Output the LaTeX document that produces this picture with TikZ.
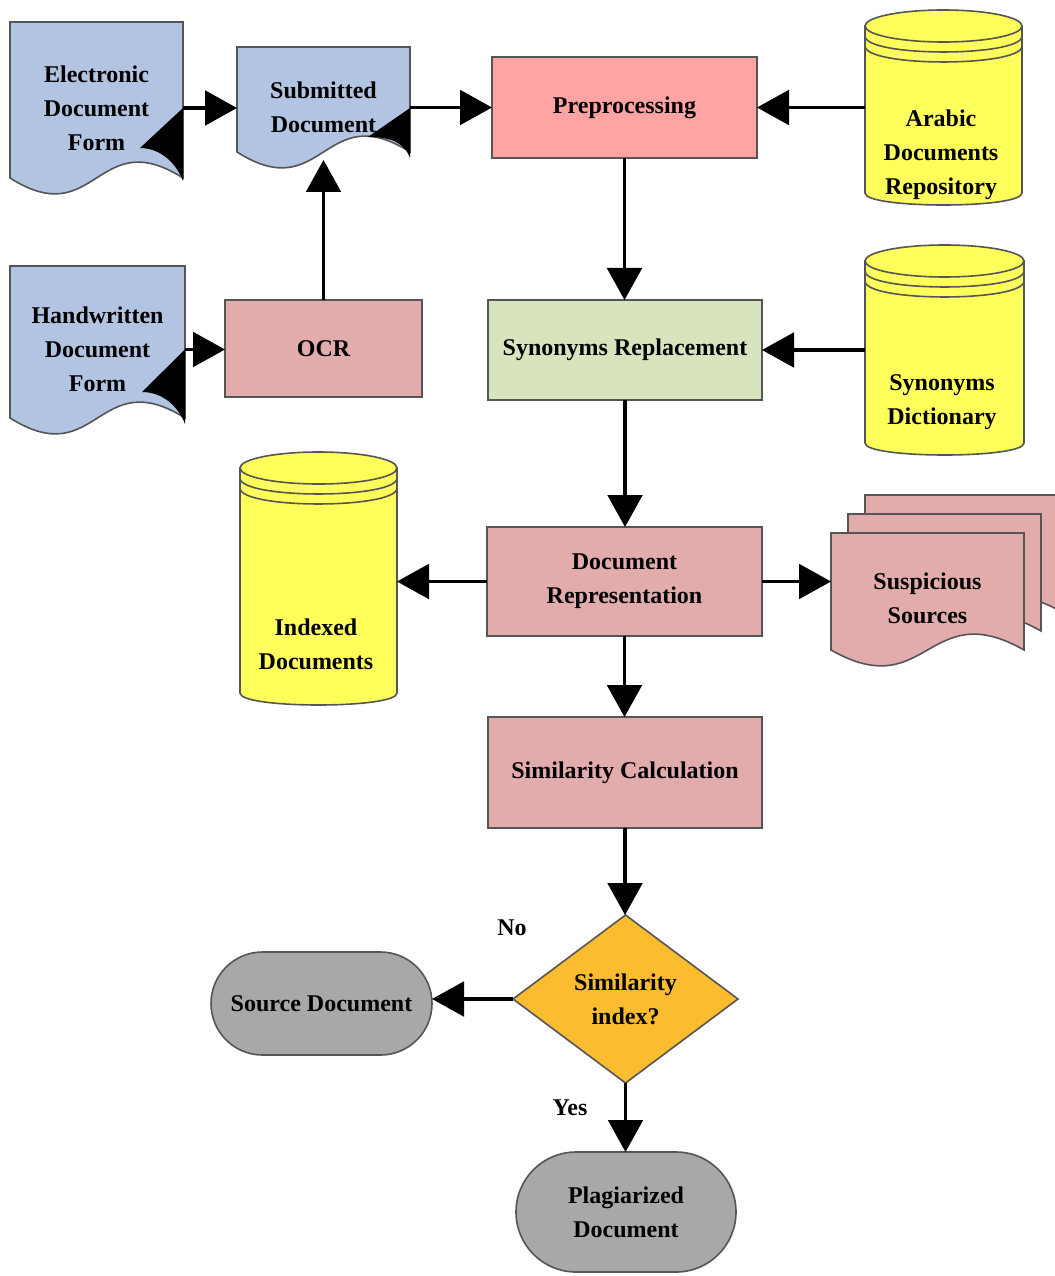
\documentclass[tikz,border=0pt]{standalone}
\usepackage{fontspec}
\setmainfont{Liberation Serif}
\usetikzlibrary{arrows.meta,shapes.geometric,shapes.misc,calc}

\definecolor{docblue}{RGB}{178,196,226}
\definecolor{prepink}{RGB}{255,163,163}
\definecolor{rose}{RGB}{226,172,172}
\definecolor{palegreen}{RGB}{216,228,190}
\definecolor{dbyellow}{RGB}{255,255,92}
\definecolor{decorange}{RGB}{252,188,48}
\definecolor{termgray}{RGB}{168,168,168}
\definecolor{bord}{RGB}{85,85,85}

% document sheet with a wavy bottom edge: x1, y1, x2, yb, fill
\newcommand\docsheet[5]{%
  \filldraw[shp, fill=#5] (#1,#2) -- (#3,#2) -- (#3,#4)
    .. controls ({(#1+#3)/2},{#4-55}) and ({(#1+#3)/2},{#4+55}) .. (#1,#4) -- cycle;}
% black tail where a connector leaves a document: x2, top y, vertex x, vertex y, bottom y
\newcommand\doctail[5]{%
  \fill[black] (#1,#2) -- (#3,#4)
    .. controls ({#3+22},{#4}) and ({#1-6},{#5-16}) .. (#1,#5) -- cycle;}
% database cylinder with ringed lid: x1, y1, x2, y2
\newcommand\dbcyl[4]{%
  \filldraw[shp, fill=dbyellow] (#1,{#2+16}) -- (#1,{#4-12})
    .. controls (#1,{#4+4}) and (#3,{#4+4}) .. (#3,{#4-12}) -- (#3,{#2+16}) -- cycle;
  \filldraw[shp, fill=dbyellow] ({(#1+#3)/2},{#2+16})
    ellipse [x radius={(#3-#1)/2*0.75pt}, y radius=12pt];
  \draw[shp] (#1,{#2+26}) .. controls (#1,{#2+47.3}) and (#3,{#2+47.3}) .. (#3,{#2+26});
  \draw[shp] (#1,{#2+36}) .. controls (#1,{#2+57.3}) and (#3,{#2+57.3}) .. (#3,{#2+36});}

\begin{document}
\begin{tikzpicture}[x=0.75pt,y=-0.75pt,
  shp/.style={draw=bord, line width=1.2pt},
  txt/.style={font=\fontsize{18}{25.5}\selectfont\bfseries, align=center, text=black},
  area/.style={txt, inner sep=0pt, outer sep=0pt},
  procbox/.style={area, shp, rectangle},
  arr/.style={line width=2.4pt, -{Triangle[length=24pt,width=26pt]}}]

\fill[white] (0,0) rectangle (1055,1276);
\useasboundingbox (0,0) rectangle (1055,1276);

% ---- document sheets
\docsheet{10}{22}{183}{178}{docblue}
\docsheet{237}{47}{410}{152}{docblue}
\docsheet{10}{266}{185}{418}{docblue}

% ---- stacked suspicious sources (the last sheet runs past the right margin)
\docsheet{865}{495}{1062}{612}{rose}
\docsheet{848}{514}{1041}{631}{rose}
\docsheet{831}{533}{1024}{650}{rose}

% ---- databases
\dbcyl{865}{10}{1022}{205}
\dbcyl{865}{245}{1024}{455}
\dbcyl{240}{452}{397}{705}

% ---- nodes
\node[area, minimum width=129.75pt, minimum height=129pt] (ele) at (96.5,108)
  {Electronic\\Document\\Form};
\node[area, minimum width=129.75pt, minimum height=90.75pt] (sub) at (323.5,107.5)
  {Submitted\\Document};
\node[area, minimum width=131.25pt, minimum height=125.25pt] (hand) at (97.5,349.5)
  {Handwritten\\Document\\Form};
\coordinate (subbot) at (323.5,160);

\node[procbox, fill=prepink, minimum width=198.75pt, minimum height=75.75pt] (pre)
  at (624.5,107.5) {Preprocessing};
\node[procbox, fill=rose, minimum width=147.75pt, minimum height=72.75pt] (ocr)
  at (323.5,348.5) {OCR};
\node[procbox, fill=palegreen, minimum width=205.5pt, minimum height=75pt] (syn)
  at (625,350) {Synonyms Replacement};
\node[procbox, fill=rose, minimum width=206.25pt, minimum height=81.75pt] (rep)
  at (624.5,581.5) {Document\\Representation};
\node[procbox, fill=rose, minimum width=205.5pt, minimum height=83.25pt] (sim)
  at (625,772.5) {Similarity Calculation};

\node[area, minimum width=117.75pt, minimum height=146.25pt] (arabic) at (943.5,107.5) {};
\node[txt] (arabictxt) at (941,155) {Arabic\\Documents\\Repository};
\node[area, minimum width=119.25pt, minimum height=157.5pt] (sdict) at (944.5,350) {};
\node[txt] (sdicttxt) at (942,402) {Synonyms\\Dictionary};
\node[area, minimum width=117.75pt, minimum height=189.75pt] (idx) at (318.5,578.5) {};
\node[txt] (idxtxt) at (316,644.5) {Indexed\\Documents};

\node[area, minimum width=144.75pt, minimum height=90pt] (susp) at (927.5,598.5)
  {Suspicious\\Sources};

\node[area, shp, diamond, fill=decorange, minimum width=168.75pt, minimum height=126pt]
  (dia) at (625.5,999) {Similarity\\index?};
\node[area, shp, rounded rectangle, fill=termgray, minimum width=165.75pt,
  minimum height=77.25pt] (src) at (321.5,1003.5) {Source Document};
\node[area, shp, rounded rectangle, fill=termgray, minimum width=165pt,
  minimum height=90pt] (plag) at (626,1212) {Plagiarized\\Document};

\node[txt] (no) at (512,928) {No};
\node[txt] (yes) at (570,1108) {Yes};

% ---- connectors
\draw[arr] (ele.east) -- (ele.east -| sub.west);
\draw[arr] (sub.east) -- (sub.east -| pre.west);
\draw[arr] (hand.east) -- (hand.east -| ocr.west);
\draw[arr] (ocr.north) -- (subbot);
\draw[arr] (arabic.west) -- (arabic.west -| pre.east);
\draw[arr] (pre.south) -- (pre.south |- syn.north);
\draw[arr] (sdict.west) -- (sdict.west -| syn.east);
\draw[arr] (syn.south) -- (syn.south |- rep.north);
\draw[arr] (rep.west) -- (rep.west -| idx.east);
\draw[arr] (rep.east) -- (rep.east -| susp.west);
\draw[arr] (rep.south) -- (rep.south |- sim.north);
\draw[arr] (sim.south) -- (sim.south |- dia.north);
\draw[arr] (dia.west) -- (dia.west -| src.east);
\draw[arr] (dia.south) -- (dia.south |- plag.north);

% ---- tails where connectors leave the document sheets
\doctail{183}{108}{140}{148}{181}
\doctail{410}{108}{368}{137}{158}
\doctail{185}{349.5}{142}{392}{424}
\end{tikzpicture}
\end{document}
